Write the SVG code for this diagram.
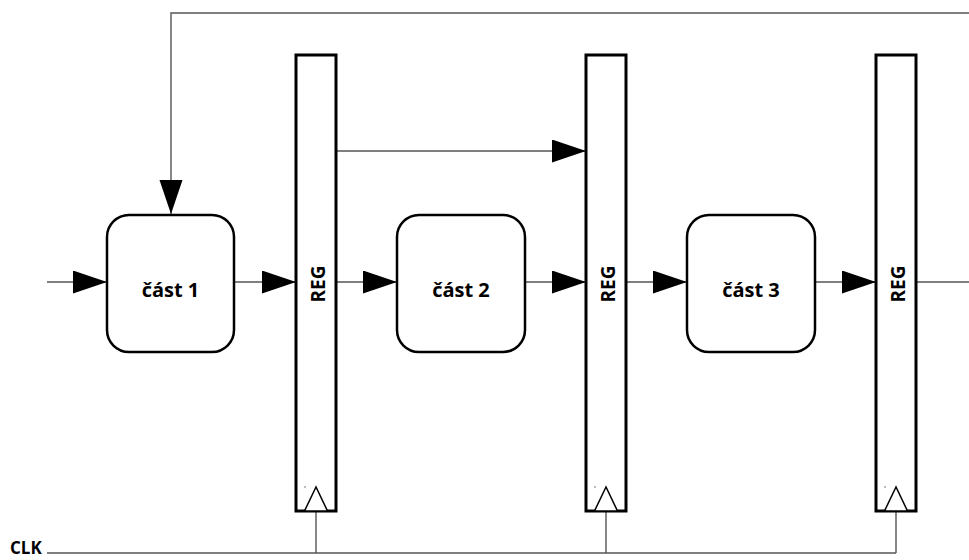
<svg xmlns="http://www.w3.org/2000/svg" width="969" height="560" viewBox="0 0 969 560">
<style>
.wire{fill:none;stroke:#555;stroke-width:1.4}
.box{fill:#fff;stroke:#000;stroke-width:2.5}
.reg{fill:#fff;stroke:#000;stroke-width:3}
.clk{fill:#fff;stroke:#000;stroke-width:1.5}
.lbl{font-family:"Open Sans","Liberation Sans",sans-serif;font-weight:bold;font-size:20px;fill:#000;text-anchor:middle}
.rl{font-family:"Open Sans","Liberation Sans",sans-serif;font-weight:bold;font-size:19px;fill:#000;text-anchor:middle}
.dot{fill:#666}
</style>
<defs>
<marker id="ah" markerUnits="userSpaceOnUse" markerWidth="35" markerHeight="24" refX="34" refY="11.5" orient="auto" viewBox="0 0 35 24">
<path d="M0,0 L34,11.5 L0,23 Z" fill="#000"/>
</marker>
</defs>
<g id="connectors">
<line class="wire" x1="47" y1="282" x2="107" y2="282" marker-end="url(#ah)"/>
<line class="wire" x1="234" y1="282" x2="296" y2="282" marker-end="url(#ah)"/>
<line class="wire" x1="336" y1="282" x2="397" y2="282" marker-end="url(#ah)"/>
<line class="wire" x1="525" y1="282" x2="586" y2="282" marker-end="url(#ah)"/>
<line class="wire" x1="626" y1="282" x2="687" y2="282" marker-end="url(#ah)"/>
<line class="wire" x1="815" y1="282" x2="876" y2="282" marker-end="url(#ah)"/>
<line class="wire" x1="916" y1="282" x2="969" y2="282"/>
<line class="wire" x1="336" y1="151" x2="586" y2="151" marker-end="url(#ah)"/>
<polyline class="wire" points="969,13 171,13 171,214" marker-end="url(#ah)"/>
<polyline class="wire" points="47,553 896,553"/>
<line class="wire" x1="316" y1="511" x2="316" y2="553"/>
<line class="wire" x1="606" y1="511" x2="606" y2="553"/>
<line class="wire" x1="896" y1="511" x2="896" y2="553"/>
</g>
<g id="part1">
<rect class="box" x="107" y="215" width="127" height="137" rx="22"/>
<text class="lbl" x="170.5" y="297">část 1</text>
</g>
<g id="part2">
<rect class="box" x="397" y="215" width="128" height="137" rx="22"/>
<text class="lbl" x="461" y="297">část 2</text>
</g>
<g id="part3">
<rect class="box" x="687" y="215" width="128" height="137" rx="22"/>
<text class="lbl" x="751" y="297">část 3</text>
</g>
<g id="reg1">
<rect class="reg" x="296" y="55" width="40" height="456"/>
<polygon class="clk" points="316,487 304.5,511 327.5,511"/>
<circle class="dot" cx="305" cy="487" r="0.8"/>
<text class="rl" transform="translate(325,284) rotate(-90)">REG</text>
</g>
<g id="reg2">
<rect class="reg" x="586" y="55" width="40" height="456"/>
<polygon class="clk" points="606,487 594.5,511 617.5,511"/>
<circle class="dot" cx="595" cy="487" r="0.8"/>
<text class="rl" transform="translate(615,284) rotate(-90)">REG</text>
</g>
<g id="reg3">
<rect class="reg" x="876" y="55" width="40" height="456"/>
<polygon class="clk" points="896,487 884.5,511 907.5,511"/>
<circle class="dot" cx="885" cy="487" r="0.8"/>
<text class="rl" transform="translate(905,284) rotate(-90)">REG</text>
</g>
<g id="clk-label">
<text x="10" y="554" style="font-family:'Open Sans','Liberation Sans',sans-serif;font-weight:bold;font-size:17px;fill:#000">CLK</text>
</g>
</svg>
